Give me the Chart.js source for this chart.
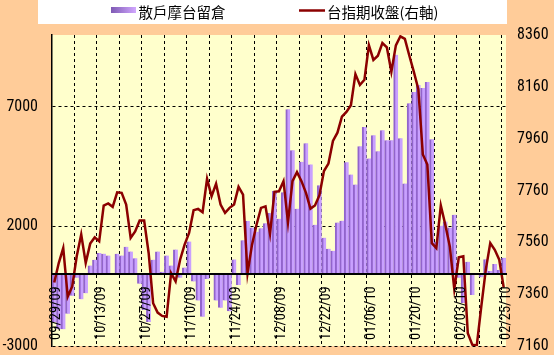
<!DOCTYPE html>
<html><head><meta charset="utf-8">
<script src="https://cdn.jsdelivr.net/npm/chart.js@4.4.1/dist/chart.umd.min.js"></script>
<style>html,body{margin:0;padding:0;background:#FFCC99;}canvas{display:block;}</style>
</head><body>
<canvas id="c" width="554" height="355"></canvas>
<script>
const dates = [
'09/29/09','09/30/09','10/01/09','10/02/09','10/05/09','10/06/09','10/07/09','10/08/09','10/09/09','10/12/09',
'10/13/09','10/14/09','10/15/09','10/16/09','10/19/09','10/20/09','10/21/09','10/22/09','10/23/09','10/26/09',
'10/27/09','10/28/09','10/29/09','10/30/09','11/02/09','11/03/09','11/04/09','11/05/09','11/06/09','11/09/09',
'11/10/09','11/11/09','11/12/09','11/13/09','11/16/09','11/17/09','11/18/09','11/19/09','11/20/09','11/23/09',
'11/24/09','11/25/09','11/26/09','11/27/09','11/30/09','12/01/09','12/02/09','12/03/09','12/04/09','12/07/09',
'12/08/09','12/09/09','12/10/09','12/11/09','12/14/09','12/15/09','12/16/09','12/17/09','12/18/09','12/21/09',
'12/22/09','12/23/09','12/24/09','12/25/09','12/28/09','12/29/09','12/30/09','12/31/09','01/04/10','01/05/10',
'01/06/10','01/07/10','01/08/10','01/11/10','01/12/10','01/13/10','01/14/10','01/15/10','01/18/10','01/19/10',
'01/20/10','01/21/10','01/22/10','01/25/10','01/26/10','01/27/10','01/28/10','01/29/10','02/01/10','02/02/10',
'02/03/10','02/04/10','02/05/10','02/06/10','02/08/10','02/09/10','02/10/10','02/22/10','02/23/10','02/24/10',
'02/25/10'];

const retailOI = [
-2000,-2300,-2300,-1650,-900,-150,-1050,-800,360,610,
890,860,780,0,860,780,1150,950,670,-400,
-1500,-2000,610,950,100,780,360,1030,-150,280,
1370,-300,-1100,-1780,-200,40,-1100,-1400,-1100,-1550,
620,-450,1420,2230,1950,1780,1920,2130,2560,3480,
2320,3430,6900,5180,2740,4700,5470,4590,2070,3720,
1530,1060,980,2160,2240,4680,4170,3750,5350,6150,
4840,5810,5140,6020,5600,5600,9170,5680,3790,7150,
7620,7910,7780,8040,5640,1360,2030,2200,1950,2490,
-150,-1200,520,-870,0,-130,630,140,430,180,
690];

const taiexClose = [
7405,7480,7538,7351,7390,7506,7590,7480,7555,7579,
7564,7702,7710,7697,7753,7751,7706,7577,7602,7644,
7644,7519,7325,7289,7276,7273,7441,7409,7493,7551,
7596,7684,7689,7676,7805,7738,7786,7706,7674,7693,
7706,7774,7744,7441,7551,7628,7693,7699,7593,7755,
7757,7796,7637,7796,7831,7796,7751,7690,7702,7742,
7835,7864,7951,7983,8045,8063,8089,8209,8167,8187,
8321,8264,8280,8329,8312,8218,8320,8355,8345,8280,
8218,8151,7899,7860,7557,7538,7702,7628,7544,7379,
7502,7506,7209,7165,7162,7312,7454,7557,7531,7493,
7385];

const leftTicks = [-3000, 2000, 7000];
const rightTicks = [7160, 7360, 7560, 7760, 7960, 8160, 8360];
const seriesNames = ['散戶摩台留倉', '台指期收盤(右軸)'];

const numFont = '"Roboto Condensed", "Liberation Sans", sans-serif';
const cjkFont = '"Noto Sans CJK TC", "Noto Sans CJK SC", sans-serif';

const decorPlugin = {
  id: 'decor',
  beforeDraw(chart) {
    const {ctx, chartArea: a} = chart;
    ctx.save();
    ctx.fillStyle = '#FFCC99';
    ctx.fillRect(0, 0, chart.width, chart.height);
    ctx.fillStyle = '#FFFFCC';
    ctx.fillRect(a.left, a.top, a.right - a.left, a.bottom - a.top);
    ctx.fillStyle = '#FFFFFF';
    ctx.fillRect(38, 0, 469, 24);
    const g = ctx.createLinearGradient(111, 0, 136, 0);
    g.addColorStop(0, '#7E5AB4');
    g.addColorStop(1, '#D2A8FF');
    ctx.fillStyle = g;
    ctx.fillRect(111, 7, 25, 6);
    ctx.strokeStyle = '#8B0000';
    ctx.lineWidth = 2.5;
    ctx.beginPath();
    ctx.moveTo(299, 10.5);
    ctx.lineTo(325, 10.5);
    ctx.stroke();
    ctx.fillStyle = '#000';
    ctx.font = '14.5px ' + cjkFont;
    ctx.textBaseline = 'middle';
    ctx.textAlign = 'left';
    ctx.fillText(chart.data.datasets[0].label, 138.5, 12);
    ctx.fillText(chart.data.datasets[1].label, 327, 12);
    ctx.restore();
  }
};

new Chart(document.getElementById('c'), {
  data: {
    labels: dates,
    datasets: [
      {
        type: 'bar', label: seriesNames[0], data: retailOI, yAxisID: 'y', order: 1,
        backgroundColor: '#C9A0FF', borderColor: '#9164CC',
        borderWidth: {left: 2, top: 0, right: 0, bottom: 0}, borderSkipped: false,
        barPercentage: 1, categoryPercentage: 1
      },
      {
        type: 'line', label: seriesNames[1], data: taiexClose, yAxisID: 'y1', order: 0,
        borderColor: '#8B0000', borderWidth: 2.5, pointRadius: 0, tension: 0, fill: false
      }
    ]
  },
  options: {
    responsive: false, animation: false, devicePixelRatio: 1,
    layout: {padding: {top: 35, bottom: 9, left: 0, right: 0}},
    plugins: {legend: {display: false}, tooltip: {enabled: false}},
    scales: {
      x: {
        type: 'category', position: {y: 0}, offset: true,
        grid: {
          offset: true, drawTicks: false, lineWidth: 1,
          color: c => (c.index !== undefined && c.index > 0 && c.index % 5 === 0) ? '#000' : 'rgba(0,0,0,0)'
        },
        border: {display: true, color: '#000', width: 2, dash: [3, 3], z: 1},
        ticks: {
          z: 1, autoSkip: false, minRotation: 90, maxRotation: 90, padding: 12, labelOffset: 2.5,
          color: '#000', font: {family: numFont, size: 14.5, lineHeight: 1},
          callback: (v, i) => (i % 10 === 0 ? dates[i] : '')
        },
        afterFit: s => { s.paddingLeft = 0; s.paddingRight = 0; }
      },
      y: {
        position: 'left', min: -3000, max: 10000,
        afterBuildTicks: s => { s.ticks = leftTicks.map(v => ({value: v})); },
        afterFit: s => { s.width = 52; s.paddingTop = 0; s.paddingBottom = 0; },
        grid: {color: '#000', lineWidth: 1, drawTicks: false},
        border: {display: true, color: '#000', width: 1.5, dash: [3, 3]},
        ticks: {padding: 14, color: '#000', font: {family: numFont, size: 16, lineHeight: 1}, callback: v => String(v)}
      },
      y1: {
        position: 'right', min: 7160, max: 8360,
        afterBuildTicks: s => { s.ticks = rightTicks.map(v => ({value: v})); },
        afterFit: s => { s.width = 48; s.paddingTop = 0; s.paddingBottom = 0; },
        grid: {display: false, drawOnChartArea: false, drawTicks: false},
        border: {display: false},
        ticks: {padding: 11, color: '#000', font: {family: numFont, size: 16, lineHeight: 1}, callback: v => String(v)}
      }
    }
  },
  plugins: [decorPlugin]
});
</script>
</body></html>
